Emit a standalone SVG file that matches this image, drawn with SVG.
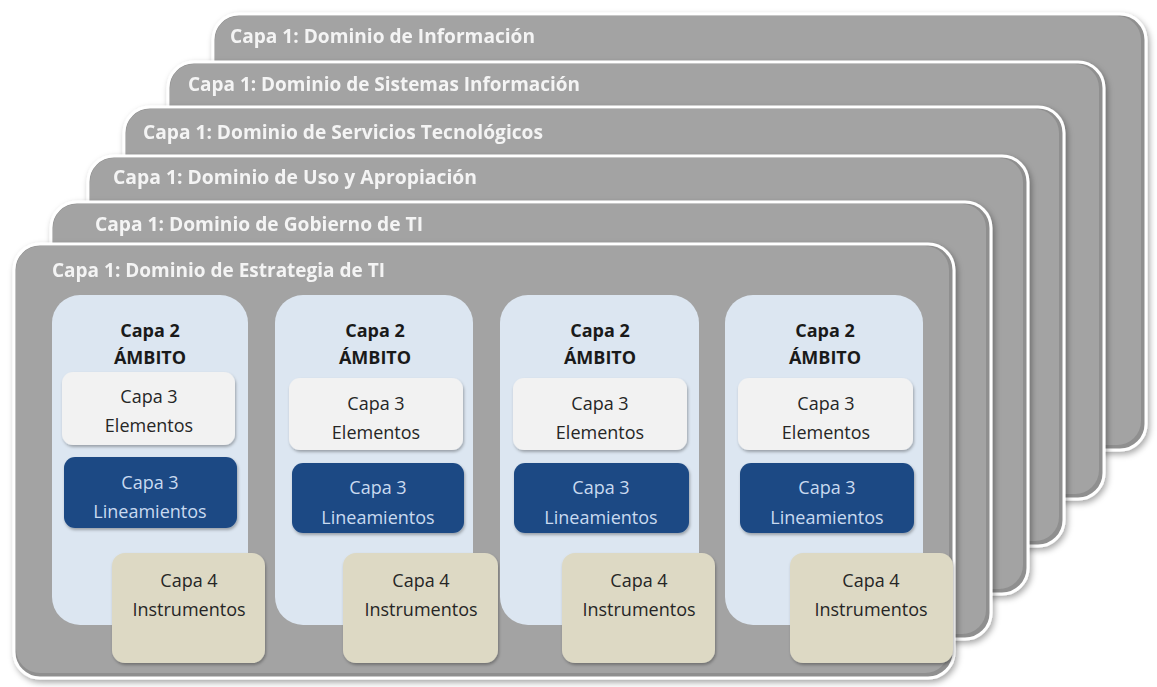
<svg xmlns="http://www.w3.org/2000/svg" width="1157" height="687" viewBox="0 0 1157 687">
<style>
.layer-out{fill:#8f8f8f;stroke:#ffffff;stroke-width:3}
.layer-in{fill:#a3a3a3}
.title{font-family:"Open Sans","Liberation Sans",sans-serif;font-size:19px;font-weight:bold;fill:#f4f4f4}
.col{fill:#dce6f1}
.elem{fill:#f2f2f2}
.line{fill:#1f4a84}
.inst{fill:#ddd9c4}
.t{font-family:"Open Sans","Liberation Sans",sans-serif;font-size:18px;text-anchor:middle;fill:#262626}
.tb{font-family:"Open Sans","Liberation Sans",sans-serif;font-size:18px;font-weight:bold;text-anchor:middle;fill:#1a1a1a}
.tl{font-family:"Open Sans","Liberation Sans",sans-serif;font-size:18px;text-anchor:middle;fill:#c9daf0}
</style>
<defs>
<filter id="sh" x="-10%" y="-10%" width="120%" height="120%">
<feDropShadow dx="2" dy="3" stdDeviation="3" flood-color="#000" flood-opacity="0.35"/>
</filter>
<filter id="sh2" x="-10%" y="-10%" width="120%" height="130%">
<feDropShadow dx="1" dy="2" stdDeviation="1.5" flood-color="#000" flood-opacity="0.3"/>
</filter>
</defs>
<rect width="1157" height="687" fill="#ffffff"/>

<g id="layer-informacion" filter="url(#sh)">
<rect class="layer-out" x="213" y="14" width="933" height="436" rx="26"/>
<rect class="layer-in" x="215" y="16" width="926" height="429" rx="24"/>
<text class="title" x="230" y="43" textLength="305" lengthAdjust="spacingAndGlyphs">Capa 1: Dominio de Información</text>
</g>
<g id="layer-sistemas" filter="url(#sh)">
<rect class="layer-out" x="168" y="62" width="936" height="437" rx="26"/>
<rect class="layer-in" x="170" y="64" width="929" height="430" rx="24"/>
<text class="title" x="188" y="91" textLength="392" lengthAdjust="spacingAndGlyphs">Capa 1: Dominio de Sistemas Información</text>
</g>
<g id="layer-servicios" filter="url(#sh)">
<rect class="layer-out" x="124" y="107" width="940" height="439" rx="26"/>
<rect class="layer-in" x="126" y="109" width="933" height="432" rx="24"/>
<text class="title" x="143" y="139" textLength="400" lengthAdjust="spacingAndGlyphs">Capa 1: Dominio de Servicios Tecnológicos</text>
</g>
<g id="layer-uso" filter="url(#sh)">
<rect class="layer-out" x="88" y="156" width="940" height="438" rx="26"/>
<rect class="layer-in" x="90" y="158" width="933" height="431" rx="24"/>
<text class="title" x="113" y="184" textLength="364" lengthAdjust="spacingAndGlyphs">Capa 1: Dominio de Uso y Apropiación</text>
</g>
<g id="layer-gobierno" filter="url(#sh)">
<rect class="layer-out" x="51" y="202" width="940" height="437" rx="26"/>
<rect class="layer-in" x="53" y="204" width="933" height="430" rx="24"/>
<text class="title" x="95" y="231" textLength="328" lengthAdjust="spacingAndGlyphs">Capa 1: Dominio de Gobierno de TI</text>
</g>
<g id="layer-estrategia" filter="url(#sh)">
<rect class="layer-out" x="14" y="244" width="940" height="434" rx="26"/>
<rect class="layer-in" x="16" y="246" width="933" height="427" rx="24"/>
<text class="title" x="52" y="277" textLength="333" lengthAdjust="spacingAndGlyphs">Capa 1: Dominio de Estrategia de TI</text>
</g>

<g id="ambito-1">
<rect class="col" x="52" y="295" width="196" height="330" rx="28"/>
<text class="tb" x="150" y="337">Capa 2</text>
<text class="tb" x="150" y="364">ÁMBITO</text>
<g id="elementos-1" filter="url(#sh2)"><rect class="elem" x="62" y="372" width="173" height="73" rx="11"/></g>
<text class="t" x="149" y="403">Capa 3</text>
<text class="t" x="149" y="432">Elementos</text>
<g id="lineamientos-1" filter="url(#sh2)"><rect class="line" x="64" y="457" width="173" height="71" rx="11"/></g>
<text class="tl" x="150" y="489">Capa 3</text>
<text class="tl" x="150" y="518">Lineamientos</text>
<g id="instrumentos-1" filter="url(#sh2)"><rect class="inst" x="112" y="553" width="153" height="110" rx="13"/></g>
<text class="t" x="189" y="587">Capa 4</text>
<text class="t" x="189" y="616">Instrumentos</text>
</g>

<g id="ambito-2">
<rect class="col" x="275" y="295" width="198" height="330" rx="28"/>
<text class="tb" x="375" y="337">Capa 2</text>
<text class="tb" x="375" y="364">ÁMBITO</text>
<g id="elementos-2" filter="url(#sh2)"><rect class="elem" x="289" y="378" width="174" height="72" rx="11"/></g>
<text class="t" x="376" y="410">Capa 3</text>
<text class="t" x="376" y="439">Elementos</text>
<g id="lineamientos-2" filter="url(#sh2)"><rect class="line" x="292" y="463" width="172" height="70" rx="11"/></g>
<text class="tl" x="378" y="494">Capa 3</text>
<text class="tl" x="378" y="524">Lineamientos</text>
<g id="instrumentos-2" filter="url(#sh2)"><rect class="inst" x="343" y="553" width="155" height="110" rx="13"/></g>
<text class="t" x="421" y="587">Capa 4</text>
<text class="t" x="421" y="616">Instrumentos</text>
</g>

<g id="ambito-3">
<rect class="col" x="500" y="295" width="199" height="330" rx="28"/>
<text class="tb" x="600" y="337">Capa 2</text>
<text class="tb" x="600" y="364">ÁMBITO</text>
<g id="elementos-3" filter="url(#sh2)"><rect class="elem" x="513" y="378" width="174" height="72" rx="11"/></g>
<text class="t" x="600" y="410">Capa 3</text>
<text class="t" x="600" y="439">Elementos</text>
<g id="lineamientos-3" filter="url(#sh2)"><rect class="line" x="514" y="463" width="175" height="70" rx="11"/></g>
<text class="tl" x="601" y="494">Capa 3</text>
<text class="tl" x="601" y="524">Lineamientos</text>
<g id="instrumentos-3" filter="url(#sh2)"><rect class="inst" x="562" y="553" width="153" height="110" rx="13"/></g>
<text class="t" x="639" y="587">Capa 4</text>
<text class="t" x="639" y="616">Instrumentos</text>
</g>

<g id="ambito-4">
<rect class="col" x="725" y="295" width="198" height="330" rx="28"/>
<text class="tb" x="825" y="337">Capa 2</text>
<text class="tb" x="825" y="364">ÁMBITO</text>
<g id="elementos-4" filter="url(#sh2)"><rect class="elem" x="738" y="378" width="175" height="72" rx="11"/></g>
<text class="t" x="826" y="410">Capa 3</text>
<text class="t" x="826" y="439">Elementos</text>
<g id="lineamientos-4" filter="url(#sh2)"><rect class="line" x="740" y="463" width="174" height="70" rx="11"/></g>
<text class="tl" x="827" y="494">Capa 3</text>
<text class="tl" x="827" y="524">Lineamientos</text>
<g id="instrumentos-4" filter="url(#sh2)"><rect class="inst" x="790" y="553" width="163" height="110" rx="13"/></g>
<text class="t" x="871" y="587">Capa 4</text>
<text class="t" x="871" y="616">Instrumentos</text>
</g>

<g id="connectors"/>
</svg>
